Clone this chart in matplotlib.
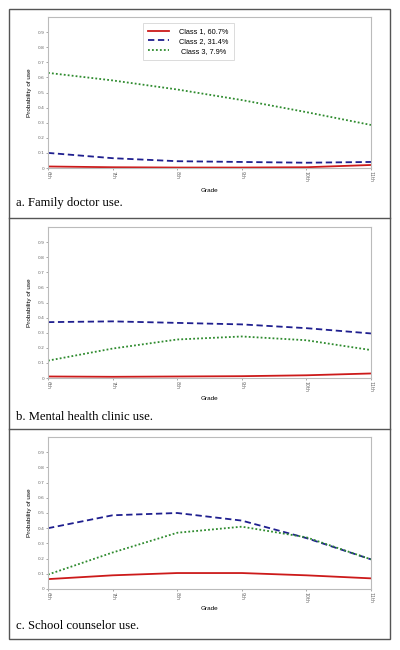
import matplotlib
matplotlib.use("Agg")
import matplotlib.pyplot as plt
from matplotlib.patches import Rectangle
from matplotlib.lines import Line2D

grades = ["6th", "7th", "8th", "9th", "10th", "11th"]
class_labels = ["Class 1, 60.7%", "Class 2, 31.4%", " Class 3, 7.9%"]

family_c1 = [0.010, 0.005, 0.003, 0.003, 0.005, 0.020]
family_c2 = [0.100, 0.065, 0.045, 0.040, 0.035, 0.040]
family_c3 = [0.630, 0.580, 0.520, 0.450, 0.370, 0.285]

mental_c1 = [0.010, 0.008, 0.010, 0.012, 0.018, 0.030]
mental_c2 = [0.370, 0.375, 0.365, 0.355, 0.330, 0.295]
mental_c3 = [0.115, 0.195, 0.255, 0.275, 0.250, 0.185]

school_c1 = [0.065, 0.090, 0.105, 0.105, 0.090, 0.070]
school_c2 = [0.400, 0.485, 0.500, 0.450, 0.335, 0.195]
school_c3 = [0.095, 0.240, 0.370, 0.410, 0.340, 0.195]

captions = ["a. Family doctor use.", "b. Mental health clinic use.", "c. School counselor use."]
yticks = [0, 0.1, 0.2, 0.3, 0.4, 0.5, 0.6, 0.7, 0.8, 0.9]
ytick_labels = ["0", "0.1", "0.2", "0.3", "0.4", "0.5", "0.6", "0.7", "0.8", "0.9"]

panels = [
    (family_c1, family_c2, family_c3),
    (mental_c1, mental_c2, mental_c3),
    (school_c1, school_c2, school_c3),
]

W, H = 400, 650
fig = plt.figure(figsize=(W / 100, H / 100), dpi=100)
fig.patch.set_facecolor("white")

def fx(px):
    return px / W

def fy(py):
    return 1 - py / H

# outer border and separators
fig.patches.append(Rectangle((fx(9), fy(639)), fx(390) - fx(9), fy(9) - fy(639),
                             transform=fig.transFigure, fill=False,
                             edgecolor="#555555", linewidth=1.0))
for sy in [218, 429]:
    fig.lines.append(Line2D([fx(9), fx(390)], [fy(sy), fy(sy)], transform=fig.transFigure,
                            color="#555555", linewidth=1.0))

axes_pix = [(17, 168), (227, 378), (437, 589)]
grade_label_y = [190, 399, 609]
caption_y = [203, 417, 626]

colors = ["#cc1a1a", "#1f1f8f", "#2e8b2e"]
styles = ["-", (0, (3.5, 2)), (0, (1, 1.2))]

x = list(range(len(grades)))
for i, (series, (top, bot)) in enumerate(zip(panels, axes_pix)):
    ax = fig.add_axes([fx(48), fy(bot), fx(371) - fx(48), fy(top) - fy(bot)])
    for s, c, ls, lab in zip(series, colors, styles, class_labels):
        ax.plot(x, s, color=c, linestyle=ls, linewidth=1.3, label=lab)
    ax.set_xlim(0, len(grades) - 1)
    ax.set_ylim(0, 1.0)
    ax.set_yticks(yticks)
    ax.set_yticklabels(ytick_labels, fontsize=3.2, color="#333333")
    ax.set_xticks(x)
    ax.set_xticklabels(grades, fontsize=3.4, rotation=-90, color="#333333")
    ax.tick_params(length=1.5, width=0.4, pad=1, colors="#666666")
    for sp in ax.spines.values():
        sp.set_color("#bbbbbb")
        sp.set_linewidth(0.8)
    fig.text(fx(30), (fy(top) + fy(bot)) / 2, "Probability of use", rotation=90,
             fontsize=4.6, ha="center", va="center", family="Liberation Sans")
    fig.text((fx(48) + fx(371)) / 2, fy(grade_label_y[i]), "Grade",
             fontsize=4.6, ha="center", va="center", family="Liberation Sans")
    fig.text(fx(16), fy(caption_y[i]), captions[i], fontsize=9.1,
             ha="left", va="center", family="Liberation Serif")
    if i == 0:
        leg = ax.legend(loc="upper left", bbox_to_anchor=(0.294, 0.96),
                        prop={"family": "Liberation Sans", "size": 5.3},
                        frameon=True, fancybox=False, handlelength=2.8,
                        borderpad=0.7, labelspacing=0.35, handletextpad=1.4,
                        borderaxespad=0)
        leg.get_frame().set_edgecolor("#cccccc")
        leg.get_frame().set_linewidth(0.6)

fig.savefig("out.png", dpi=100)
